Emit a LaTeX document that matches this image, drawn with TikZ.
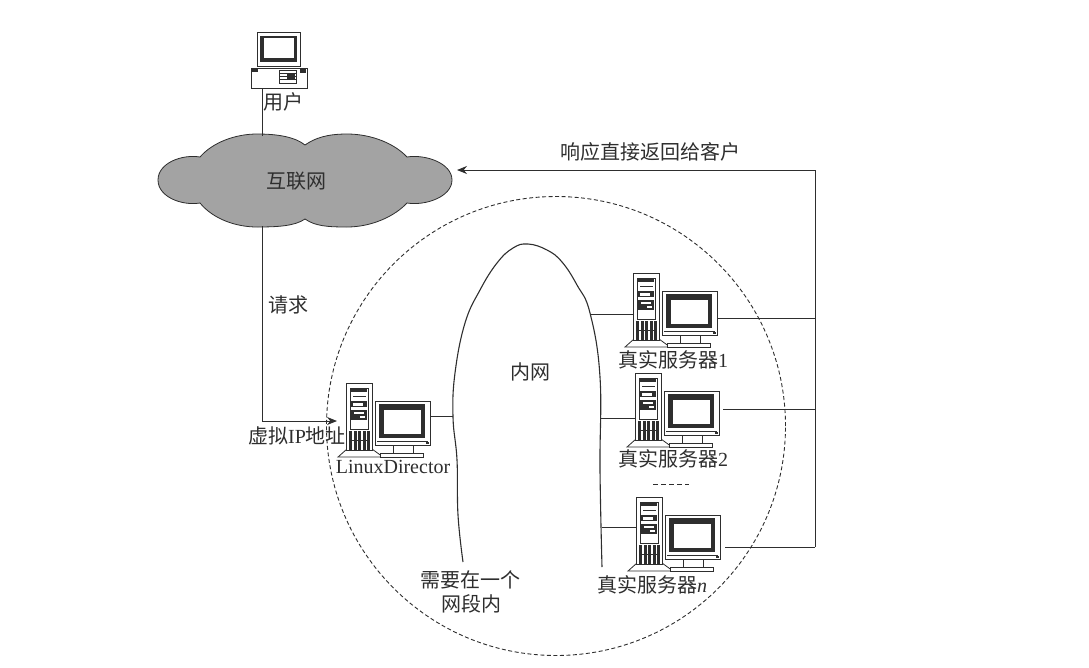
\documentclass[tikz,border=0pt]{standalone}
\usepackage{fontspec}
\setmainfont{Liberation Serif}
\newfontfamily\cjk{Noto Sans CJK SC}
\usetikzlibrary{arrows.meta}
\definecolor{ink}{gray}{0.18}
\definecolor{cloudgray}{gray}{0.64}
\tikzset{
  x=1pt,y=-1pt,
  wire/.style={draw=ink,line width=1pt},
  arrowwire/.style={wire,-{Stealth[length=10pt,width=8pt]}},
  lan/.style={draw=ink,line width=1.1pt},
  lab/.style={text=ink,font=\fontsize{20}{24}\selectfont\cjk,inner sep=0pt},
  latin/.style={text=ink,font=\fontsize{20}{24}\selectfont,inner sep=0pt},
  mixed/.style={text=ink,inner sep=0pt,font=\fontsize{20}{24}\selectfont},
  part/.style={draw=ink,line width=0.8pt,fill=white},
  server/.pic={
    \coordinate (-w) at (0,41);
    \coordinate (-e) at (84,45);
    \draw[part] (-8,74) -- (1,66) -- (26,66) -- (37,74) -- cycle;
    \draw[part] (0,0) rectangle (26,67);
    \draw[part] (4,5) rectangle (22,46);
    \fill[ink] (5,6) rectangle (21,9);
    \draw[ink,line width=1pt] (7,13) -- (20,13);
    \fill[ink] (5,18) rectangle (21,24);
    \fill[white] (7,20) rectangle (17,22.5);
    \fill[ink] (5,27) rectangle (21,37);
    \fill[white] (8,29) rectangle (18,31);
    \fill[white] (14,33) rectangle (19,35);
    \foreach \i in {3,7.5,12,16.5,21}{\fill[ink] (\i,48) rectangle +(3.2,20);}
    \fill[ink] (3,57) rectangle (24,58);
    \draw[part] (29,18) rectangle (84,62);
    \fill[ink] (33,21) rectangle (79,55);
    \fill[white] (38,27) rectangle (75,51);
    \draw[ink,line width=0.7pt] (31,58) -- (82,58);
    \fill[ink] (80,59) rectangle (83,61);
    \draw[part] (47,62) -- (47,70);
    \draw[part] (67,62) -- (67,70);
    \draw[part] (34,70) rectangle (77,74);
  },
  userpc/.pic={
    \coordinate (-s) at (12,56);
    \draw[part] (7,0) rectangle (50,34);
    \fill[ink] (10,4) rectangle (47,30);
    \fill[white] (14,6) rectangle (44,26);
    \draw[part] (1,36) rectangle (57,56);
    \fill[ink] (2,37) rectangle (8,40);
    \draw[part] (29,38) rectangle (46,51);
    \foreach \yy in {41,44,47}{\draw[ink,line width=0.8pt] (29,\yy) -- (46,\yy);}
    \fill[ink] (37,41) rectangle (45,47);
    \fill[ink] (50,37) rectangle (56,41);
  }
}
\begin{document}
\begin{tikzpicture}
\useasboundingbox (0,0) rectangle (1089,667);
\node[circle,draw=ink,dash pattern=on 4pt off 2.5pt,line width=0.9pt,minimum size=459pt,inner sep=0pt] (segment) at (556,426) {};
\coordinate (entry) at (337,421);
\coordinate (cloudtop) at (262,136);
\coordinate (cloudbottom) at (262,226);
\coordinate (cloudright) at (457,170);
\coordinate (trunk) at (815,170);
\path[draw=ink,line width=0.8pt,fill=cloudgray]
  (200,157) .. controls (182,154) and (158,163) .. (158,180)
  .. controls (158,197) and (182,206) .. (200,203)
  .. controls (213,219) and (236,227) .. (257,227)
  .. controls (278,227) and (295,226) .. (305,219)
  .. controls (315,226) and (327,227) .. (347,227)
  .. controls (372,227) and (395,216) .. (407,203)
  .. controls (425,206) and (452,197) .. (452,180)
  .. controls (452,163) and (425,154) .. (407,157)
  .. controls (395,144) and (372,134) .. (347,134)
  .. controls (327,134) and (315,138) .. (305,145)
  .. controls (295,137) and (278,134) .. (257,134)
  .. controls (236,134) and (213,142) .. (200,157) -- cycle;
\node[lab] (internet) at (296,181) {互联网};
\pic (user) at (250,32) {userpc};
\node[lab] (userlabel) at (283,102) {用户};
\draw[wire] (user-s) -- (cloudtop);
\draw[lan] plot[smooth,tension=0.7] coordinates {(463,562) (458,515) (457,460) (453,417) (455,373) (465,323) (480,290) (497,263) (513,248) (528,244) (547,250) (562,262) (577,285) (590,313) (600,377) (600,470) (602,567)};
\pic (dir) at (346,383) {server};
\pic (sa) at (633,273) {server};
\pic (sb) at (635,373) {server};
\pic (sc) at (636,497) {server};
\draw[arrowwire] (cloudbottom) |- (entry);
\coordinate (dirlan) at (453,416);
\draw[wire] (dirlan -| dir-e) -- (dirlan);
\coordinate (lana) at (590,314);
\coordinate (lanb) at (600,418);
\coordinate (lanc) at (602,527);
\draw[wire] (lana) -- (lana -| sa-w);
\draw[wire] (lanb) -- (lanb -| sb-w);
\draw[wire] (lanc) -- (lanc -| sc-w);
\coordinate (trunkend) at (815,547);
\coordinate (rb) at (723,409);
\coordinate (rc) at (725,547);
\draw[wire] (sa-e) -- (815,318);
\draw[wire] (rb) -- (815,409);
\draw[wire] (rc) -- (trunkend);
\draw[arrowwire] (trunkend) -- (trunk) -- (cloudright);
\node[lab] (resp) at (650,152) {响应直接返回给客户};
\node[lab] (req) at (288,305) {请求};
\node[lab] (inner) at (530,372) {内网};
\node[mixed] (vip) at (297,436) {\cjk 虚拟\rmfamily IP\cjk 地址};
\node[latin] (dirl) at (393,467) {LinuxDirector};
\node[mixed] (la) at (673,360) {\cjk 真实服务器\rmfamily 1};
\node[mixed] (lb) at (673,459) {\cjk 真实服务器\rmfamily 2};
\node[mixed] (lc) at (652,585) {\cjk 真实服务器\rmfamily\itshape n};
\node[lab] (need1) at (470,580) {需要在一个};
\node[lab] (need2) at (471,604) {网段内};
\coordinate (da) at (653,484);
\coordinate (db) at (689,484);
\draw[draw=ink,dash pattern=on 5pt off 3pt,line width=0.9pt] (da) -- (db);
\end{tikzpicture}
\end{document}
